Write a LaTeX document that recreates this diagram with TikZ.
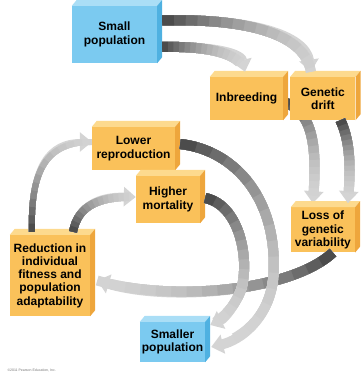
\documentclass[tikz,border=0pt]{standalone}
\usepackage{fontspec}
\newfontfamily\labfont{Liberation Sans}
\usetikzlibrary{positioning, arrows.meta, backgrounds}

\definecolor{amber}{HTML}{FAC15A}
\definecolor{ambertop}{HTML}{FDDA8E}
\definecolor{amberside}{HTML}{EEA63C}
\definecolor{sky}{HTML}{7BCAF0}
\definecolor{skytop}{HTML}{AADEF6}
\definecolor{skyside}{HTML}{4FB1E1}

\tikzset{
	box/.style={
		fill=amber,
		inner sep=1pt,
		align=center,
		font=\labfont\bfseries\fontsize{12}{13.3}\selectfont
	},
	sky box/.style={
		box,
		fill=sky
	},
	flow/.style={
		line width=#1,
		black!17,
		-{Triangle[length=12pt,width=19pt]}
	},
	flow/.default=10pt
}

% shaded arrow: [width] {rough length in pt} {path}
\newcommand{\flowarrow}[3][10pt]{%
	\draw[flow=#1] #3;
	\foreach \i in {1,...,16} {
		\pgfmathsetmacro{\dl}{min((1-\i/17)*#2, #2-14)}
		\pgfmathsetmacro{\gr}{17+53*(\i/16)^2}
		\draw[line width=#1, black!\gr, dash pattern=on \dl pt off 2000pt] #3;
	}
}

\begin{document}
\begin{tikzpicture}[x=1pt, y=-1pt]
\useasboundingbox (0,0) rectangle (363,377);

% boxes
\node[sky box, minimum width=85pt, minimum height=57pt] (small) at (114.5,34.5) {Small\\population};
\node[box, minimum width=73pt, minimum height=43pt] (inbr) at (246.5,98.5) {Inbreeding};
\node[box, minimum width=65pt, minimum height=43pt, right=7pt of inbr] (drift) {Genetic\\drift};
\node[box, minimum width=64pt, minimum height=45pt, below=87pt of drift] (loss) {Loss of\\genetic\\variability};
\node[box, minimum width=83pt, minimum height=43pt] (lower) at (133.5,148.5) {Lower\\reproduction};
\node[box, minimum width=64pt, minimum height=47pt] (higher) at (168,199.5) {Higher\\mortality};
\node[box, minimum width=80pt, minimum height=81pt] (reduc) at (50,275.5) {Reduction in\\individual\\fitness and\\population\\adaptability};
\node[sky box, minimum width=65pt, minimum height=40pt] (smaller) at (172.5,342) {Smaller\\population};

% top and side faces
\foreach \n/\c in {small/sky, inbr/amber, drift/amber, loss/amber, lower/amber, higher/amber, reduc/amber, smaller/sky} {
	\fill[\c top] (\n.north west) -- ++(5,-6) -- ([shift={(5,-6)}]\n.north east) -- (\n.north east) -- cycle;
	\fill[\c side] (\n.north east) -- ++(5,-6) -- ([shift={(5,-6)}]\n.south east) -- (\n.south east) -- cycle;
}

\node[anchor=west, text=black!55, font=\labfont\fontsize{3.5}{4}\selectfont] (copy) at (4,370) {\copyright 2011 Pearson Education, Inc.};

% arrows
\begin{scope}[on background layer]
\flowarrow{120}{([yshift=-3.5pt]inbr.east) .. controls (318,112) and (316,160) .. ([xshift=-10pt,yshift=4pt]loss.north)}
\end{scope}
\flowarrow{200}{([xshift=5pt,yshift=14pt]small.east) .. controls (250,18) and (305,35) .. ([xshift=-12pt,yshift=5pt]drift.north)}
\flowarrow{95}{([xshift=5pt,yshift=-12.5pt]small.east) .. controls (205,46) and (240,52) .. ([xshift=-1.5pt,yshift=5pt]inbr.north)}
\flowarrow{88}{([xshift=17.5pt]drift.south) .. controls (352,145) and (350,175) .. ([xshift=25pt,yshift=4pt]loss.north)}
\flowarrow{262}{([xshift=10pt]loss.south) .. controls (290,292) and (170,302) .. ([xshift=7pt,yshift=-5pt]reduc.east)}
\flowarrow[6pt]{140}{([xshift=-18pt,yshift=3pt]reduc.north) .. controls (30,165) and (50,142) .. ([yshift=6.5pt]lower.west)}
\flowarrow[8pt]{88}{([xshift=23pt,yshift=3pt]reduc.north) .. controls (78,205) and (100,196) .. ([yshift=2.5pt]higher.west)}
\flowarrow{272}{([xshift=5pt,yshift=4.5pt]lower.east) .. controls (235,150) and (280,200) .. (273,280) .. controls (268,320) and (240,340) .. ([xshift=6pt,yshift=-5pt]smaller.east)}
\flowarrow{165}{([xshift=5pt,yshift=1.5pt]higher.east) .. controls (240,205) and (250,260) .. (241,290) .. controls (235,305) and (225,318) .. ([xshift=5pt,yshift=17pt]smaller.east)}
\end{tikzpicture}
\end{document}
